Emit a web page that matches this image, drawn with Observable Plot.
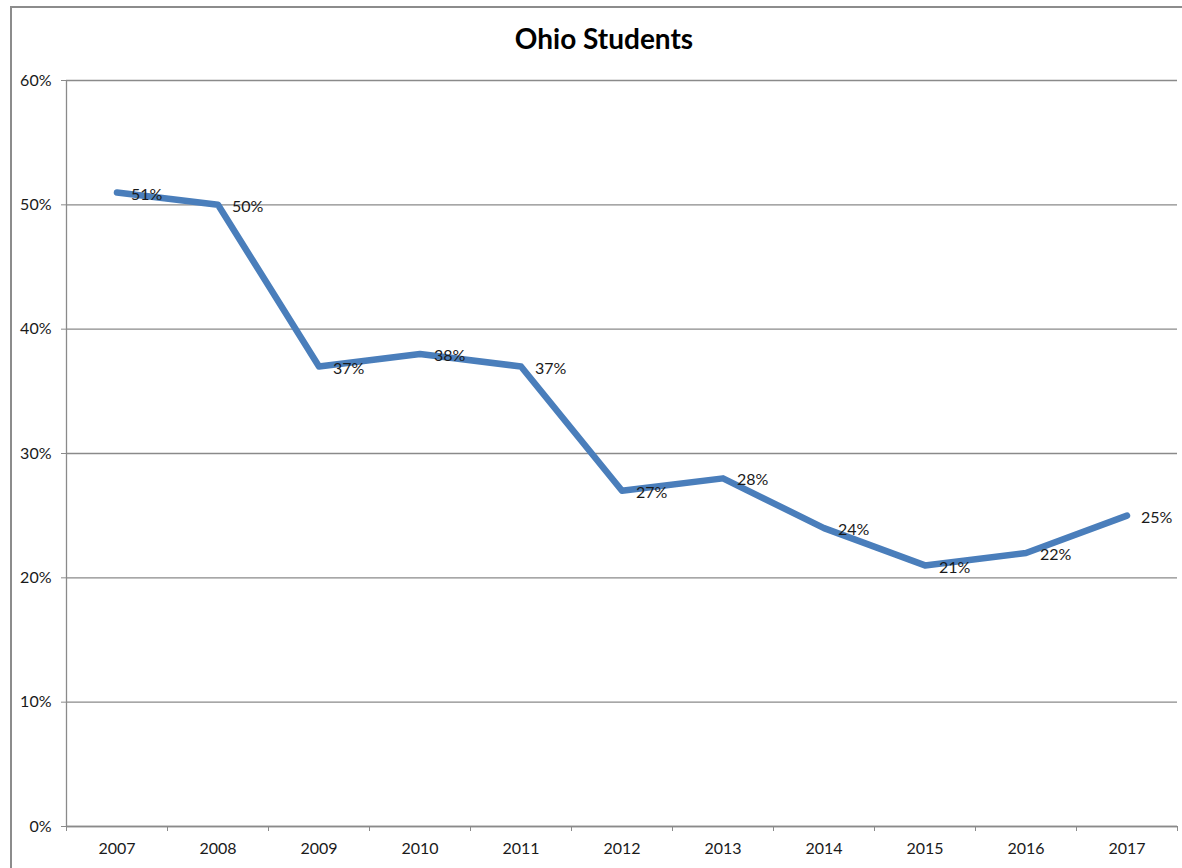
<!DOCTYPE html>
<html>
<head>
<meta charset="utf-8">
<script src="https://cdn.jsdelivr.net/npm/d3@7"></script>
<script src="https://cdn.jsdelivr.net/npm/@observablehq/plot@0.6"></script>
<style>
  html, body { margin: 0; padding: 0; background: #fff; overflow: hidden; }
  #wrap { position: relative; width: 1182px; height: 868px; overflow: hidden; }
  .bline { position: absolute; background: #8c8c8c; }
  #topLine { left: 10px; top: 6px; width: 1172px; height: 2px; }
  #leftLine { left: 10px; top: 6px; width: 2px; height: 862px; }
  #chart { position: absolute; left: 0; top: 0; }
</style>
</head>
<body>
<div id="wrap"><div id="topLine" class="bline"></div><div id="leftLine" class="bline"></div><div id="chart"></div></div>
<script>
const title = "Ohio Students";
const years = [2007, 2008, 2009, 2010, 2011, 2012, 2013, 2014, 2015, 2016, 2017];
const values = [51, 50, 37, 38, 37, 27, 28, 24, 21, 22, 25];
const yTicks = [0, 10, 20, 30, 40, 50, 60];

const data = years.map((y, i) => ({year: y, value: values[i] / 100}));
const boundaries = d3.range(years[0] - 0.5, years[years.length - 1] + 1, 1);

const font = "Lato, 'Open Sans', sans-serif";
const plot = Plot.plot({
  width: 1182,
  height: 868,
  marginLeft: 66,
  marginRight: 5,
  marginTop: 80,
  marginBottom: 42,
  style: {fontFamily: font, fontSize: "16px", color: "#1a1a1a", background: "transparent"},
  x: {domain: [years[0] - 0.5, years[years.length - 1] + 0.5], axis: null},
  y: {domain: [0, 0.6], axis: null},
  marks: [
    Plot.gridY(yTicks.map(d => d / 100), {stroke: "#8a8a8a", strokeOpacity: 1, strokeWidth: 1.3}),
    Plot.axisY(yTicks.map(d => d / 100), {label: null, tickSize: 5, tickPadding: 10, tickFormat: d => Math.round(d * 100) + "%", stroke: "#8a8a8a", fontSize: 16}),
    Plot.ruleX([years[0] - 0.5], {stroke: "#8a8a8a", strokeWidth: 1.3}),
    Plot.ruleY([0], {stroke: "#8a8a8a", strokeWidth: 1.3}),
    Plot.axisX(boundaries, {label: null, tickSize: 5, tickFormat: () => "", stroke: "#8a8a8a"}),
    Plot.axisX(years, {label: null, tickSize: 0, tickPadding: 16, tickFormat: d => String(d), fontSize: 16}),
    Plot.line(data, {x: "year", y: "value", stroke: "#4a7ebb", strokeWidth: 6.5, strokeLinecap: "round", strokeLinejoin: "round"}),
    Plot.text(data, {x: "year", y: "value", text: d => Math.round(d.value * 100) + "%", textAnchor: "start", dx: 14, dy: 2, fill: "#1a1a1a", fontSize: 16}),
    Plot.text([title], {frameAnchor: "top", lineAnchor: "middle", dy: -40, text: d => d, fontWeight: "bold", fontSize: 28, fill: "#000", dx: -18})
  ]
});
document.getElementById("chart").appendChild(plot);
</script>
</body>
</html>
